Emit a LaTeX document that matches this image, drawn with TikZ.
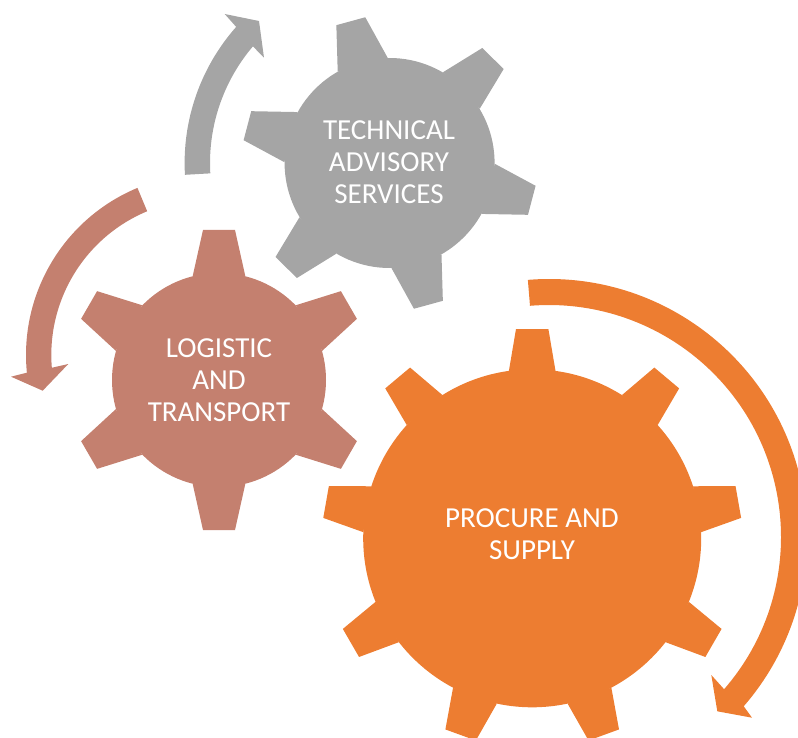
\documentclass[tikz,border=0pt]{standalone}
\usepackage{fontspec}
\setmainfont{Carlito}
\usetikzlibrary{calc}
\definecolor{geargray}{HTML}{A5A5A5}
\definecolor{gearbrown}{HTML}{C4806F}
\definecolor{gearorange}{HTML}{ED7D31}
\tikzset{
  gearlabel/.style={text=white,align=center,inner sep=0pt,font=\fontsize{29}{32}\selectfont},
}
% colour, centre, body radius, teeth, first-tooth angle, tip half, tip radius, base half, base radius
\newcommand{\gearwheel}[9]{%
  \fill[#1] (#2) circle[radius=#3pt];
  \pgfmathsetmacro{\gstep}{360/#4}
  \foreach \k in {1,...,#4}{
    \pgfmathsetmacro{\gang}{#5+\k*\gstep}
    \fill[#1,shift={(#2)},rotate=-\gang] (-#6,-#7) -- (#6,-#7) -- (#8,-#9) -- (-#8,-#9) -- cycle;
  }%
}
\begin{document}
\begin{tikzpicture}[x=1pt,y=-1pt]
\useasboundingbox (0,0) rectangle (798,738);
\coordinate (gc) at (389.6,163);
\coordinate (bc) at (219,380);
\coordinate (oc) at (532.2,538.3);
\coordinate (ga) at (390,163);
\coordinate (ba) at (207,355);
\coordinate (oa) at (549,537);

\gearwheel{geargray}{gc}{105}{6}{-15.3}{15}{147}{25.9}{102}
\gearwheel{gearbrown}{bc}{107}{6}{0}{16}{150}{26.3}{104}
\gearwheel{gearorange}{oc}{169}{9}{0}{16.2}{209.3}{23.3}{167.4}

% gray arrow
\fill[geargray] ($(ga)+(183.3:205.4pt)$) arc[start angle=183.3,end angle=138.5,radius=205.4pt]
  -- (224.7,14) -- (259,21) -- (264,57.7) -- ($(ga)+(139.6:180pt)$)
  arc[start angle=139.6,end angle=183.3,radius=180pt] -- cycle;
% brown arrow
\fill[gearbrown] ($(ba)+(112.6:181pt)$) arc[start angle=112.6,end angle=185.6,radius=181pt]
  -- (11,376.7) -- (42.7,390.7) -- (68.3,364) -- ($(ba)+(184.7:155.7pt)$)
  arc[start angle=184.7,end angle=112.6,radius=155.7pt] -- cycle;
% orange arrow
\fill[gearorange] ($(oa)+(94.7:258pt)$) arc[start angle=94.7,end angle=-41,radius=258pt]
  -- (752,717.7) -- (717.3,711.3) -- (711.3,675) -- ($(oa)+(-41:232pt)$)
  arc[start angle=-41,end angle=94.7,radius=232pt] -- cycle;

\node[gearlabel] (tech) at (389,162) {TECHNICAL\\ADVISORY\\SERVICES};
\node[gearlabel] (logi) at (219,379.7) {LOGISTIC\\AND\\TRANSPORT};
\node[gearlabel] (proc) at (532,534) {PROCURE AND\\SUPPLY};
\end{tikzpicture}
\end{document}
